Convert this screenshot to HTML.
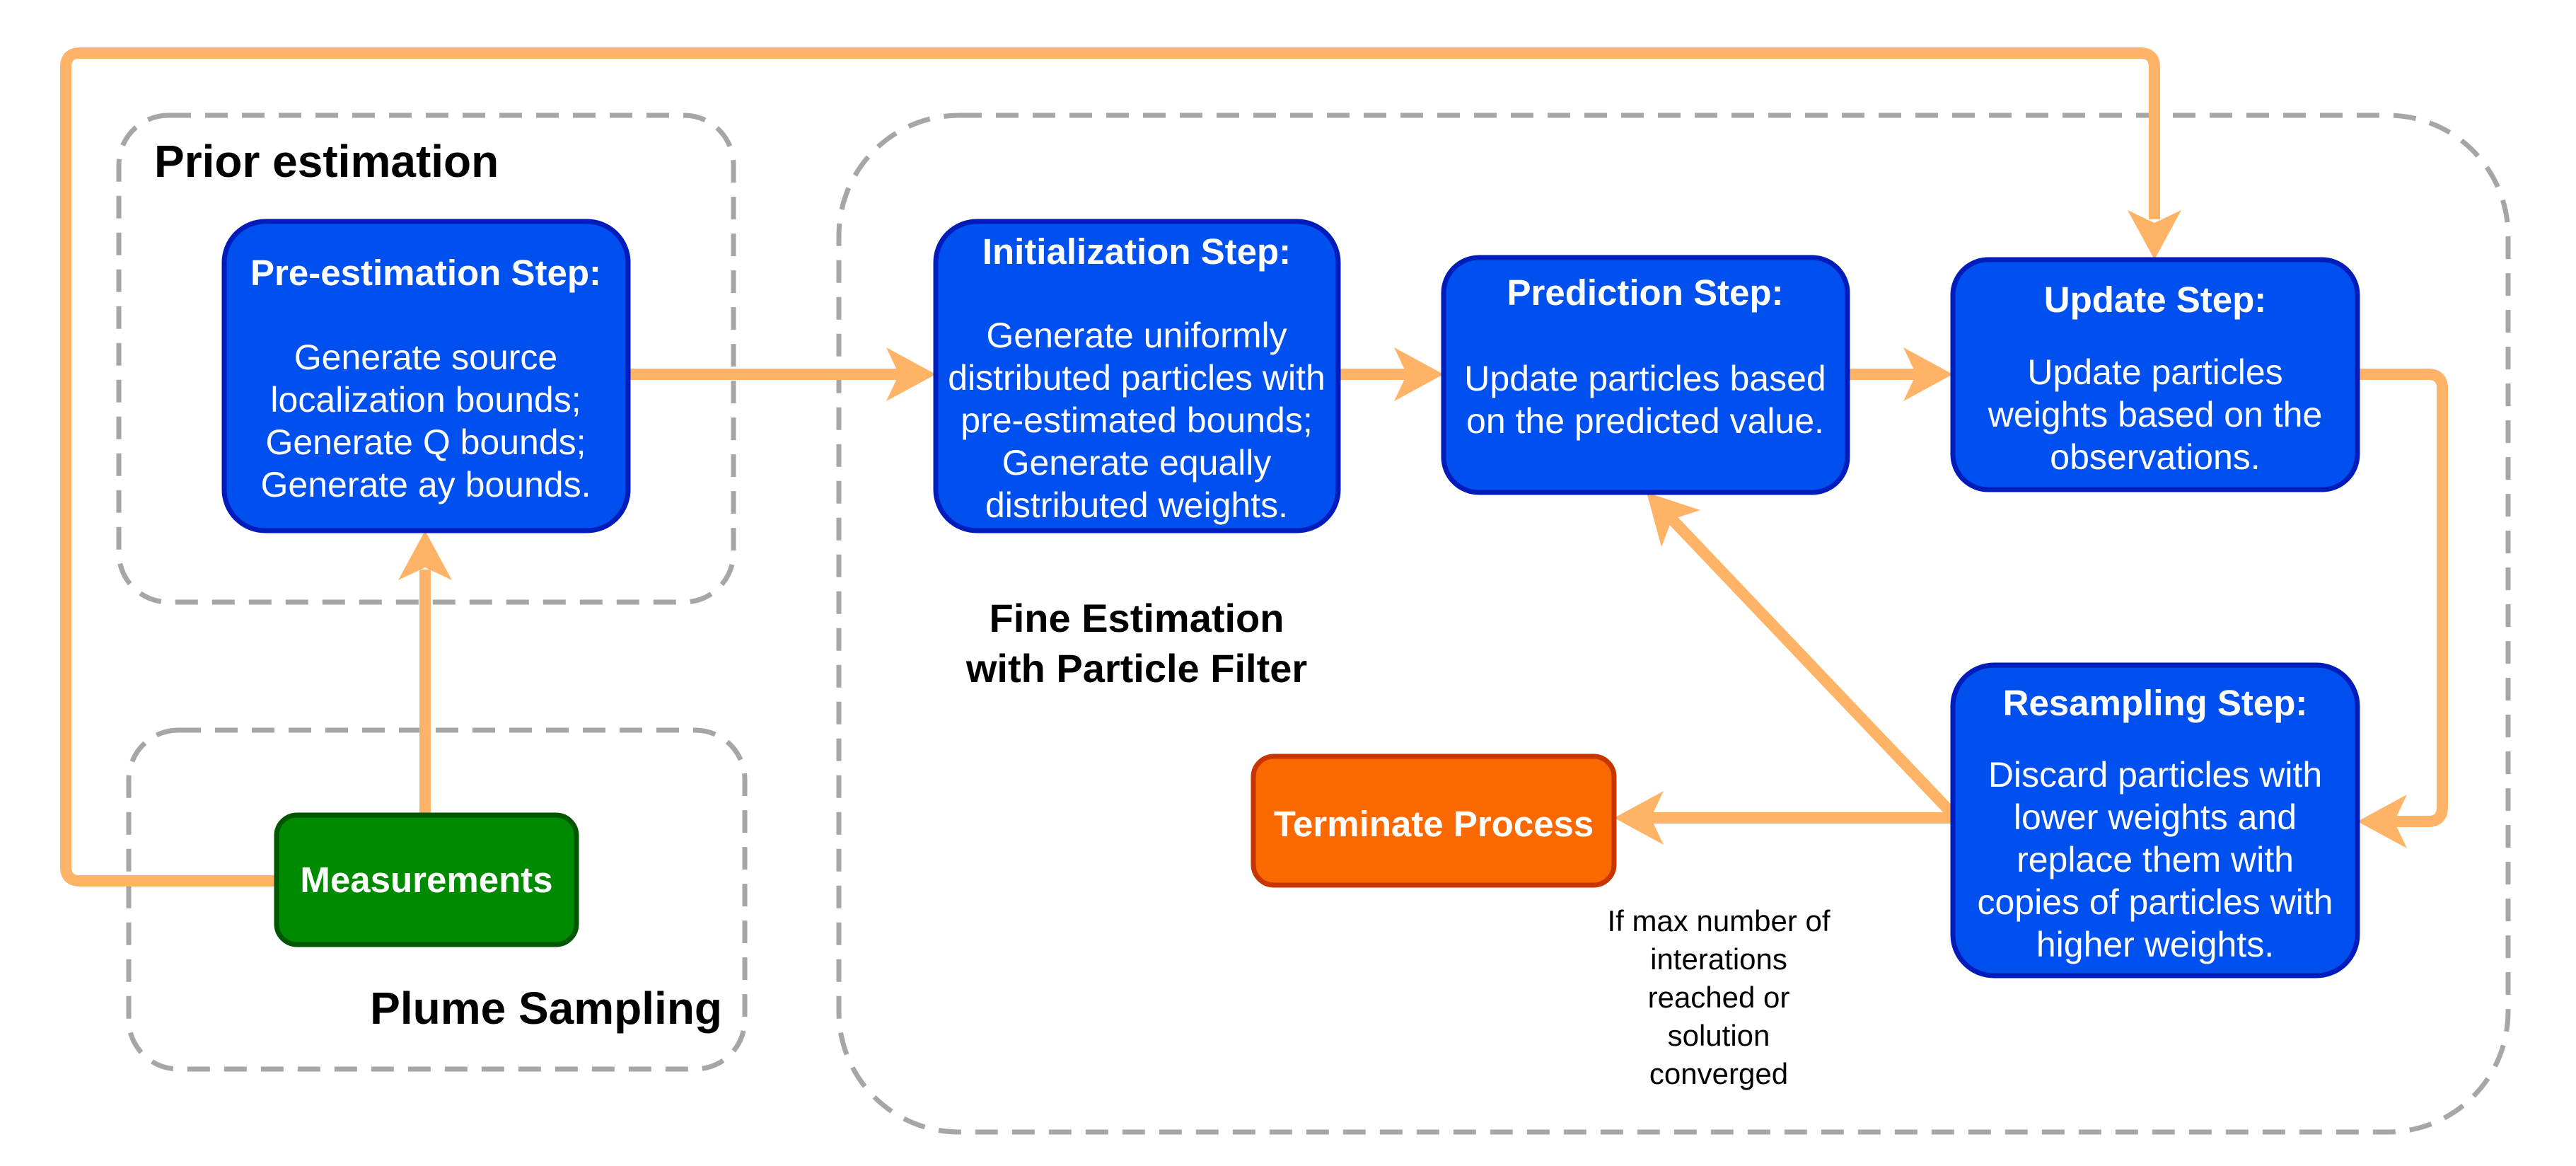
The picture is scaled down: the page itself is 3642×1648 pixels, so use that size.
<!DOCTYPE html>
<html><head><meta charset="utf-8"><style>
html,body{margin:0;padding:0;background:#fff;}
svg{display:block;}
text{font-family:"Liberation Sans",Arial,sans-serif;}
.t{fill:#fff;font-weight:bold;font-size:51px;text-anchor:middle;}
.b{fill:#fff;font-size:50px;text-anchor:middle;}
.box{fill:#0050ef;stroke:#001dbc;stroke-width:7;}
.dash{fill:none;stroke:#a6a6a6;stroke-width:7;stroke-dasharray:32 20;}
.ln{fill:none;stroke:#ffb366;stroke-width:16;}
.ah{fill:#ffb366;}
</style></head><body>
<svg width="3642" height="1648" viewBox="0 0 3642 1648" xmlns="http://www.w3.org/2000/svg">
<!-- dashed groups -->
<rect class="dash" x="168" y="163" width="869" height="688" rx="70"/>
<rect class="dash" x="182" y="1032" width="871" height="479" rx="70"/>
<rect class="dash" x="1186" y="163" width="2360" height="1437" rx="170"/>
<text x="218" y="250" font-size="64" font-weight="bold">Prior estimation</text>
<text x="1021" y="1447" font-size="64" font-weight="bold" text-anchor="end">Plume Sampling</text>
<text x="1607" y="893" font-size="56" font-weight="bold" text-anchor="middle">Fine Estimation</text>
<text x="1607" y="964" font-size="56" font-weight="bold" text-anchor="middle">with Particle Filter</text>

<!-- connectors -->
<path class="ln" d="M391 1245 H113 Q93 1245 93 1225 V95 Q93 75 113 75 H3026 Q3046 75 3046 95 V310"/>
<polygon class="ah" points="3046,367 3008,297 3046,315 3084,297"/>
<path class="ln" d="M601 1152 V805"/>
<polygon class="ah" points="601,750 563,820 601,802 639,820"/>
<path class="ln" d="M888 529 H1275"/>
<polygon class="ah" points="1323,529 1253,491 1271,529 1253,567"/>
<path class="ln" d="M1892 529 H1990"/>
<polygon class="ah" points="2041,529 1971,491 1989,529 1971,567"/>
<path class="ln" d="M2612 529 H2710"/>
<polygon class="ah" points="2761,529 2691,491 2709,529 2691,567"/>
<path class="ln" d="M3333 529 H3433 Q3453 529 3453 549 V1141 Q3453 1161 3433 1161 H3385"/>
<polygon class="ah" points="3333,1161 3403,1123 3385,1161 3403,1199"/>
<path class="ln" d="M2761 1156 H2334"/>
<polygon class="ah" points="2282,1156 2352,1118 2334,1156 2352,1194"/>
<path class="ln" d="M2761 1151 L2364 734"/>
<polygon class="ah" points="2328,696 2404,721 2364,734 2349,773"/>

<!-- Pre-estimation -->
<rect class="box" x="317" y="313" width="571" height="437" rx="58"/>
<text class="t" x="602" y="403">Pre-estimation Step:</text>
<text class="b" x="602" y="522">Generate source</text>
<text class="b" x="602" y="582">localization bounds;</text>
<text class="b" x="602" y="642">Generate Q bounds;</text>
<text class="b" x="602" y="702">Generate ay bounds.</text>

<!-- Measurements -->
<rect x="391" y="1152" width="424" height="183" rx="29" fill="#008a00" stroke="#005700" stroke-width="7"/>
<text class="t" x="603" y="1261">Measurements</text>

<!-- Initialization -->
<rect class="box" x="1323" y="313" width="569" height="437" rx="58"/>
<text class="t" x="1607" y="373">Initialization Step:</text>
<text class="b" x="1607" y="491">Generate uniformly</text>
<text class="b" x="1607" y="551">distributed particles with</text>
<text class="b" x="1607" y="611">pre-estimated bounds;</text>
<text class="b" x="1607" y="671">Generate equally</text>
<text class="b" x="1607" y="731">distributed weights.</text>

<!-- Prediction -->
<rect class="box" x="2041" y="364" width="571" height="332" rx="50"/>
<text class="t" x="2326" y="431">Prediction Step:</text>
<text class="b" x="2326" y="552">Update particles based</text>
<text class="b" x="2326" y="612">on the predicted value.</text>

<!-- Update -->
<rect class="box" x="2761" y="367" width="572" height="325" rx="50"/>
<text class="t" x="3047" y="441">Update Step:</text>
<text class="b" x="3047" y="543">Update particles</text>
<text class="b" x="3047" y="603">weights based on the</text>
<text class="b" x="3047" y="663">observations.</text>

<!-- Resampling -->
<rect class="box" x="2761" y="940" width="572" height="439" rx="58"/>
<text class="t" x="3047" y="1011">Resampling Step:</text>
<text class="b" x="3047" y="1112">Discard particles with</text>
<text class="b" x="3047" y="1172">lower weights and</text>
<text class="b" x="3047" y="1232">replace them with</text>
<text class="b" x="3047" y="1292">copies of particles with</text>
<text class="b" x="3047" y="1352">higher weights.</text>

<!-- Terminate -->
<rect x="1772" y="1069" width="510" height="182" rx="29" fill="#fa6800" stroke="#c73500" stroke-width="7"/>
<text class="t" x="2027" y="1182">Terminate Process</text>

<!-- note -->
<g font-size="42" text-anchor="middle" fill="#000">
<text x="2430" y="1316">If max number of</text>
<text x="2430" y="1370">interations</text>
<text x="2430" y="1424">reached or</text>
<text x="2430" y="1478">solution</text>
<text x="2430" y="1532">converged</text>
</g>
</svg>
</body></html>
